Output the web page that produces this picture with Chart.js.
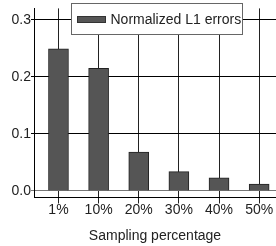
<!DOCTYPE html>
<html>
<head>
<meta charset="utf-8">
<script src="https://cdn.jsdelivr.net/npm/chart.js@4/dist/chart.umd.min.js"></script>
<style>
    html, body { margin: 0; padding: 0; background: #fff; }
    #wrap { width: 276px; height: 246px; }
</style>
</head>
<body>
<div id="wrap"><canvas id="chart" width="276" height="246"></canvas></div>
<script>
// Data
const labels = ['1%', '10%', '20%', '30%', '40%', '50%'];
const errors = [0.249, 0.215, 0.068, 0.034, 0.023, 0.012];
const yTicks = [0.0, 0.1, 0.2, 0.3];
const seriesLabel = 'Normalized L1 errors';
const xTitle = 'Sampling percentage';

const FONT = 'Liberation Sans, Arial, sans-serif';

// Legend drawn inside the plot, on top of the grid
const insideLegend = {
    id: 'insideLegend',
    afterDraw(chart) {
        const ctx = chart.ctx;
        const area = chart.chartArea;
        const x = area.left + 37.5, y = 3.5, w = 171, h = 31;
        ctx.save();
        ctx.fillStyle = '#fff';
        ctx.fillRect(x, y, w, h);
        ctx.strokeStyle = '#666';
        ctx.lineWidth = 1;
        ctx.strokeRect(x, y, w, h);
        ctx.fillStyle = '#555';
        ctx.fillRect(x + 6, y + 13, 28, 6);
        ctx.strokeStyle = '#333';
        ctx.strokeRect(x + 6, y + 13, 28, 6);
        ctx.fillStyle = '#222';
        ctx.font = '14px ' + FONT;
        ctx.textBaseline = 'middle';
        ctx.fillText(seriesLabel, x + 39, y + 16.5);
        ctx.restore();
    }
};

new Chart(document.getElementById('chart'), {
    type: 'bar',
    data: {
        datasets: [{
            label: seriesLabel,
            data: errors.map((v, i) => ({ x: i + 1, y: v })),
            backgroundColor: '#555',
            borderColor: '#222',
            borderWidth: 1,
            barThickness: 20
        }]
    },
    options: {
        responsive: false,
        animation: false,
        layout: { padding: { top: 5, right: 0, left: 0, bottom: 0 } },
        plugins: {
            legend: { display: false },
            tooltip: { enabled: false }
        },
        scales: {
            x: {
                type: 'linear',
                z: 1,
                offset: false,
                min: 0.39,
                max: 6.42,
                afterBuildTicks: s => { s.ticks = labels.map((l, i) => ({ value: i + 1 })); },
                afterFit: s => { s.height = 48.5; },
                grid: { color: '#222', lineWidth: 1, tickLength: 6, offset: false },
                border: { color: '#000', width: 1 },
                ticks: {
                    color: '#222',
                    font: { family: FONT, size: 14 },
                    padding: -2,
                    maxRotation: 0,
                    callback: v => labels[v - 1]
                },
                title: {
                    display: true,
                    text: xTitle,
                    color: '#222',
                    font: { family: FONT, size: 14 },
                    padding: { top: 4, bottom: 1 }
                }
            },
            y: {
                z: 1,
                min: -0.0114,
                max: 0.32,
                afterBuildTicks: s => { s.ticks = yTicks.map(v => ({ value: v })); },
                afterFit: s => { s.width = 34; },
                grid: {
                    color: c => (c.tick && c.tick.value === 0 ? '#777' : '#000'),
                    lineWidth: 1,
                    tickLength: 3
                },
                border: { color: '#000', width: 1 },
                ticks: {
                    color: '#222',
                    font: { family: FONT, size: 14 },
                    padding: 0,
                    callback: v => v.toFixed(1)
                }
            }
        }
    },
    plugins: [insideLegend]
});
</script>
</body>
</html>
